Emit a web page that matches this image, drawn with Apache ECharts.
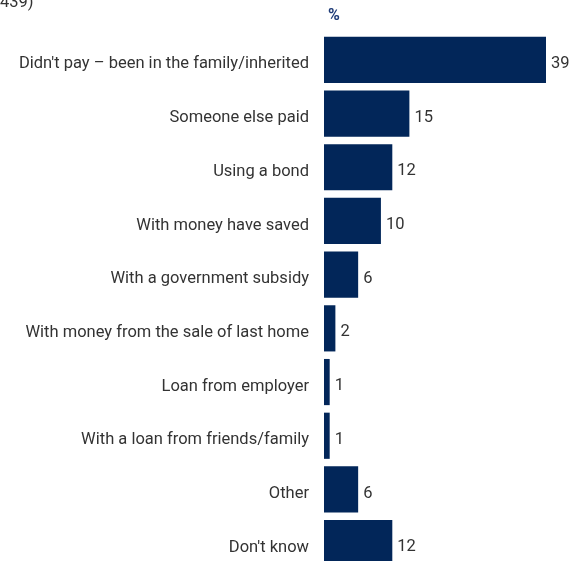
<!DOCTYPE html>
<html>
<head>
<meta charset="utf-8">
<script src="https://cdn.jsdelivr.net/npm/echarts@6/dist/echarts.min.js"></script>
<style>
  html, body { margin: 0; padding: 0; background: #fff; }
  #chart { width: 588px; height: 561px; }
</style>
</head>
<body>
<div id="chart"></div>
<script>
// How the home was paid for (%)
const categories = [
  "Didn't pay \u2013 been in the family/inherited",
  "Someone else paid",
  "Using a bond",
  "With money have saved",
  "With a government subsidy",
  "With money from the sale of last home",
  "Loan from employer",
  "With a loan from friends/family",
  "Other",
  "Don't know"
];
const values = [39, 15, 12, 10, 6, 2, 1, 1, 6, 12];
const baseNote = "439)";
const unitLabel = "%";

const FONT = "Roboto, 'Noto Sans', sans-serif";
const TEXT = '#333333';
const chart = echarts.init(document.getElementById('chart'), null, { renderer: 'canvas' });

chart.setOption({
  animation: false,
  backgroundColor: '#ffffff',
  grid: {
    left: 324, top: 33, width: 222, height: 537,
    containLabel: false,
    outerBoundsMode: 'none'
  },
  xAxis: {
    type: 'value', min: 0, max: 39,
    show: false
  },
  yAxis: {
    type: 'category',
    data: categories,
    inverse: true,
    axisLine: { show: false },
    axisTick: { show: false },
    splitLine: { show: false },
    axisLabel: {
      margin: 15,
      formatter: v => '{c|' + v + '}',
      rich: {
        c: {
          color: TEXT,
          fontFamily: FONT,
          fontSize: 16.5,
          padding: [9, 0, 0, 0]
        }
      }
    }
  },
  series: [{
    type: 'bar',
    data: values,
    barCategoryGap: '14%',
    itemStyle: { color: '#022659' },
    label: {
      show: true,
      position: 'right',
      distance: 5,
      offset: [0, 4],
      color: TEXT,
      fontFamily: FONT,
      fontSize: 16.5
    }
  }],
  graphic: [
    {
      type: 'text', left: 0, top: -6,
      style: { text: baseNote, fill: TEXT, font: '16.5px ' + FONT }
    },
    {
      type: 'text', left: 328, top: 8,
      style: { text: unitLabel, fill: '#1f3c78', font: 'bold 16px ' + FONT }
    }
  ]
});
</script>
</body>
</html>
